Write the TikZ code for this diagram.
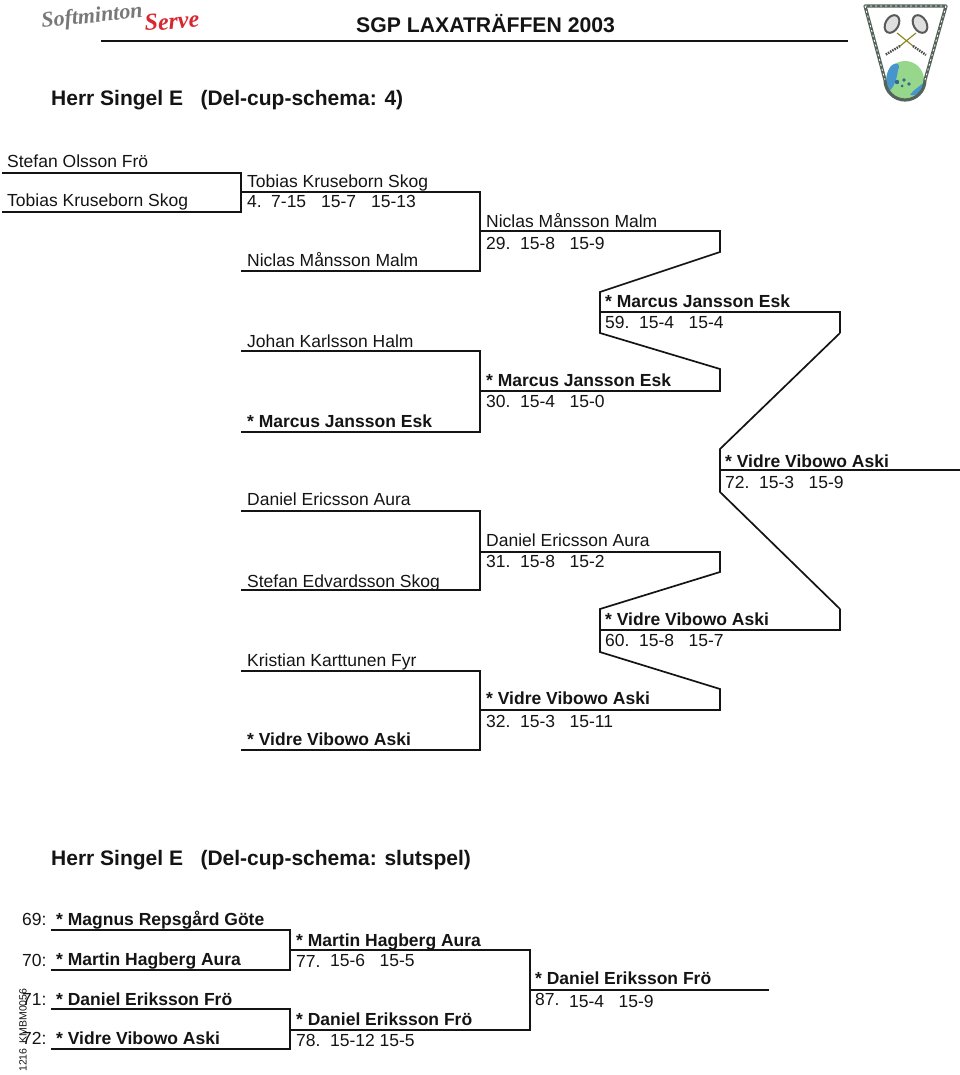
\documentclass[tikz,border=0pt]{standalone}
\usepackage{fontspec}
\setmainfont{Liberation Sans}
\newfontfamily\logofont{Liberation Serif}
\usetikzlibrary{calc}
\definecolor{inkcol}{RGB}{20,20,20}
\definecolor{logogray}{RGB}{120,120,120}
\definecolor{logored}{RGB}{215,40,50}
\definecolor{shieldcol}{RGB}{85,100,90}
\definecolor{globecol}{RGB}{150,215,140}
\definecolor{seacol}{RGB}{70,150,205}
\tikzset{
  player/.style={inkcol, inner sep=0pt, anchor=base west, font=\fontsize{17.5}{20}\selectfont},
  seeded/.style={player, font=\fontsize{17.5}{20}\selectfont\bfseries},
  heading/.style={inkcol, inner sep=0pt, anchor=base west, font=\fontsize{21}{24}\selectfont\bfseries},
  bracket/.style={inkcol, line width=1.7pt, line join=miter},
  headline/.style={inkcol, line width=1.8pt}
}
% score columns: match number, then the sets
\newcommand{\sets}[3]{\makebox[34pt][l]{#1}\makebox[49.5pt][l]{#2}#3}

\begin{document}
\begin{tikzpicture}[x=1pt, y=-1pt]
  \useasboundingbox (0,0) rectangle (960,1075);

  % --- page head ---------------------------------------------------------
  \coordinate (HeadL) at (101,41);
  \coordinate (HeadR) at (848,41);
  \draw[headline] (HeadL) -- (HeadR);
  \node[heading, font=\fontsize{21.2}{24}\selectfont\bfseries] (Event) at (356,33) {SGP LAXATRÄFFEN 2003};
  \node[heading] (TitleA) at (51,106) {Herr Singel E~~~(Del-cup-schema: 4)};
  \node[heading] (TitleB) at (51,865) {Herr Singel E~~~(Del-cup-schema: slutspel)};

  % --- logo, left ---------------------------------------------------------
  \node[logogray, inner sep=0pt, anchor=base west, rotate=6, font=\logofont\fontsize{22}{24}\selectfont\bfseries\itshape] (LogoA) at (42,28) {Softminton};
  \node[logored, inner sep=0pt, anchor=base west, rotate=4, font=\logofont\fontsize{24}{28}\selectfont\bfseries\itshape] (LogoB) at (145,31) {Serve};

  % --- shield, right -------------------------------------------------------
  \fill[globecol] (905,80) circle (19);
  \fill[seacol] (891,66) .. controls (897,61) and (901,64) .. (898,70)
     .. controls (897,78) and (894,88) .. (889,91) .. controls (885,82) and (886,72) .. cycle;
  \fill[seacol] (910,95) .. controls (915,88) and (921,86) .. (924,82) .. controls (925,90) and (918,97) .. cycle;
  \fill[seacol!70!black] (897,82) circle (2.2) (904,80) circle (1.8) (909,84) circle (1.8) (902,86) circle (1.5);
  \draw[shieldcol, line width=3.2pt, line join=round] (865,6) -- (946,6) -- (925,80)
     arc [start angle=0, end angle=180, radius=20] -- cycle;
  \draw[white, line width=0.8pt, dash pattern=on 2pt off 3pt] (865,6) -- (885,80) (946,6) -- (925,80) (865,6) -- (946,6);
  \draw[fill=gray!25, draw=gray!70!black, line width=2pt, rotate around={-30:(892,24)}] (892,24) ellipse (6.5 and 9.5);
  \draw[fill=gray!25, draw=gray!70!black, line width=2pt, rotate around={30:(920,24)}] (920,24) ellipse (6.5 and 9.5);
  \draw[olive!70!gray, line width=1.2pt] (897,33) -- (913,46) (916,33) -- (900,46);
  \draw[gray!60!black, line width=2.4pt, dash pattern=on 1.5pt off 1pt] (913,46) -- (926,55) (900,46) -- (885,55);

  % --- first round -----------------------------------------------------------
  \coordinate (A1) at (2,173);   \coordinate (A2) at (241,173);
  \coordinate (B1) at (2,212);   \coordinate (B2) at (241,212);
  \coordinate (C1) at (241,192); \coordinate (C2) at (480,192);
  \coordinate (D1) at (241,271); \coordinate (D2) at (480,271);
  \coordinate (E1) at (241,351); \coordinate (E2) at (480,351);
  \coordinate (F1) at (241,432); \coordinate (F2) at (480,432);
  \coordinate (G1) at (241,511); \coordinate (G2) at (480,511);
  \coordinate (H1) at (241,590); \coordinate (H2) at (480,590);
  \coordinate (J1) at (241,671); \coordinate (J2) at (480,671);
  \coordinate (K1) at (241,750); \coordinate (K2) at (480,750);
  \draw[bracket] (A1) -- (A2) -- (B2) -- (B1);
  \draw[bracket] (C1) -- (C2) -- (D2) -- (D1);
  \draw[bracket] (E1) -- (E2) -- (F2) -- (F1);
  \draw[bracket] (G1) -- (G2) -- (H2) -- (H1);
  \draw[bracket] (J1) -- (J2) -- (K2) -- (K1);

  \node[player] (p1) at (7,168) {Stefan Olsson Frö};
  \node[player] (p2) at (7,207) {Tobias Kruseborn Skog};
  \node[player] (p3) at (247,188) {Tobias Kruseborn Skog};
  \node[player] (m4) at (247,208) {\makebox[24pt][l]{4.}\makebox[50pt][l]{7-15}\makebox[50pt][l]{15-7}15-13};
  \node[player] (p4) at (247,266) {Niclas Månsson Malm};
  \node[player] (p5) at (247,347) {Johan Karlsson Halm};
  \node[seeded] (p6) at (247,427) {* Marcus Jansson Esk};
  \node[player] (p7) at (247,505) {Daniel Ericsson Aura};
  \node[player] (p8) at (247,587) {Stefan Edvardsson Skog};
  \node[player] (p9) at (247,666) {Kristian Karttunen Fyr};
  \node[seeded] (p10) at (247,745) {* Vidre Vibowo Aski};

  % --- second round ----------------------------------------------------------
  \coordinate (Q1) at (480,231); \coordinate (Q2) at (720,231); \coordinate (Q3) at (720,252);
  \coordinate (R1) at (480,391); \coordinate (R2) at (720,391); \coordinate (R3) at (720,369);
  \coordinate (S1) at (480,552); \coordinate (S2) at (720,552); \coordinate (S3) at (720,572);
  \coordinate (T1) at (480,710); \coordinate (T2) at (720,710); \coordinate (T3) at (720,689);

  \node[player] (p11) at (486,228) {Niclas Månsson Malm};
  \node[player] (m29) at (486,249) {\sets{29.}{15-8}{15-9}};
  \node[seeded] (p12) at (486,386) {* Marcus Jansson Esk};
  \node[player] (m30) at (486,407) {\sets{30.}{15-4}{15-0}};
  \node[player] (p13) at (486,546) {Daniel Ericsson Aura};
  \node[player] (m31) at (486,567) {\sets{31.}{15-8}{15-2}};
  \node[seeded] (p14) at (486,704) {* Vidre Vibowo Aski};
  \node[player] (m32) at (486,727) {\sets{32.}{15-3}{15-11}};

  % --- semi finals, joined by slanted lines ----------------------------------
  \coordinate (U1) at (600,292); \coordinate (U2) at (600,333);
  \coordinate (U3) at (600,312); \coordinate (U4) at (840,312); \coordinate (U5) at (840,333);
  \coordinate (V1) at (600,609); \coordinate (V2) at (600,652);
  \coordinate (V3) at (600,630); \coordinate (V4) at (840,630); \coordinate (V5) at (840,609);
  \draw[bracket] (Q1) -- (Q2) -- (Q3) -- (U1) -- (U2) -- (R3) -- (R2) -- (R1);
  \draw[bracket] (S1) -- (S2) -- (S3) -- (V1) -- (V2) -- (T3) -- (T2) -- (T1);
  \draw[bracket] (U3) -- (U4) -- (U5);
  \draw[bracket] (V3) -- (V4) -- (V5);

  \node[seeded] (p15) at (605,307) {* Marcus Jansson Esk};
  \node[player] (m59) at (605,328) {\sets{59.}{15-4}{15-4}};
  \node[seeded] (p16) at (605,625) {* Vidre Vibowo Aski};
  \node[player] (m60) at (605,646) {\sets{60.}{15-8}{15-7}};

  % --- group final -----------------------------------------------------------
  \coordinate (W1) at (720,449); \coordinate (W2) at (720,492);
  \coordinate (W3) at (720,470); \coordinate (W4) at (960,470);
  \draw[bracket] (U5) -- (W1) -- (W2) -- (V5);
  \draw[bracket] (W3) -- (W4);
  \node[seeded] (p17) at (725,467) {* Vidre Vibowo Aski};
  \node[player] (m72) at (725,488) {\sets{72.}{15-3}{15-9}};

  % --- slutspel ----------------------------------------------------------------
  \coordinate (X1) at (51,930);   \coordinate (X2) at (290,930);
  \coordinate (X3) at (51,970);   \coordinate (X4) at (290,970);
  \coordinate (X5) at (51,1009);  \coordinate (X6) at (290,1009);
  \coordinate (X7) at (51,1049);  \coordinate (X8) at (290,1049);
  \coordinate (Y1) at (290,950);  \coordinate (Y2) at (530,950);
  \coordinate (Y3) at (290,1030); \coordinate (Y4) at (530,1030);
  \coordinate (Z1) at (530,990);  \coordinate (Z2) at (769,990);
  \draw[bracket] (X1) -- (X2) -- (X4) -- (X3);
  \draw[bracket] (X5) -- (X6) -- (X8) -- (X7);
  \draw[bracket] (Y1) -- (Y2) -- (Y4) -- (Y3);
  \draw[bracket] (Z1) -- (Z2);

  \node[player] (n69) at (22,925) {69:};
  \node[player] (n70) at (22,966) {70:};
  \node[player] (n71) at (22,1005) {71:};
  \node[player] (n72) at (22,1044) {72:};
  \node[seeded] (s1) at (56,925) {* Magnus Repsgård Göte};
  \node[seeded] (s2) at (56,965) {* Martin Hagberg Aura};
  \node[seeded] (s3) at (56,1005) {* Daniel Eriksson Frö};
  \node[seeded] (s4) at (56,1044) {* Vidre Vibowo Aski};
  \node[seeded] (s5) at (296,946) {* Martin Hagberg Aura};
  \node[player] (m77) at (296,966) {\sets{\raisebox{-1.5pt}{77.}}{15-6}{15-5}};
  \node[seeded] (s6) at (296,1025) {* Daniel Eriksson Frö};
  \node[player] (m78) at (296,1046) {\sets{78.}{15-12}{15-5}};
  \node[seeded] (s7) at (535,984) {* Daniel Eriksson Frö};
  \node[player] (m87) at (535,1007.5) {\sets{\raisebox{2pt}{87.}}{15-4}{15-9}};

  % --- print mark along the left edge ------------------------------------------
  \node[inkcol, inner sep=0pt, anchor=base west, rotate=90, font=\fontsize{10.5}{12}\selectfont] (Mark) at (26.5,1072) {1216\hspace{5pt}KMBM0056};

\end{tikzpicture}
\end{document}
